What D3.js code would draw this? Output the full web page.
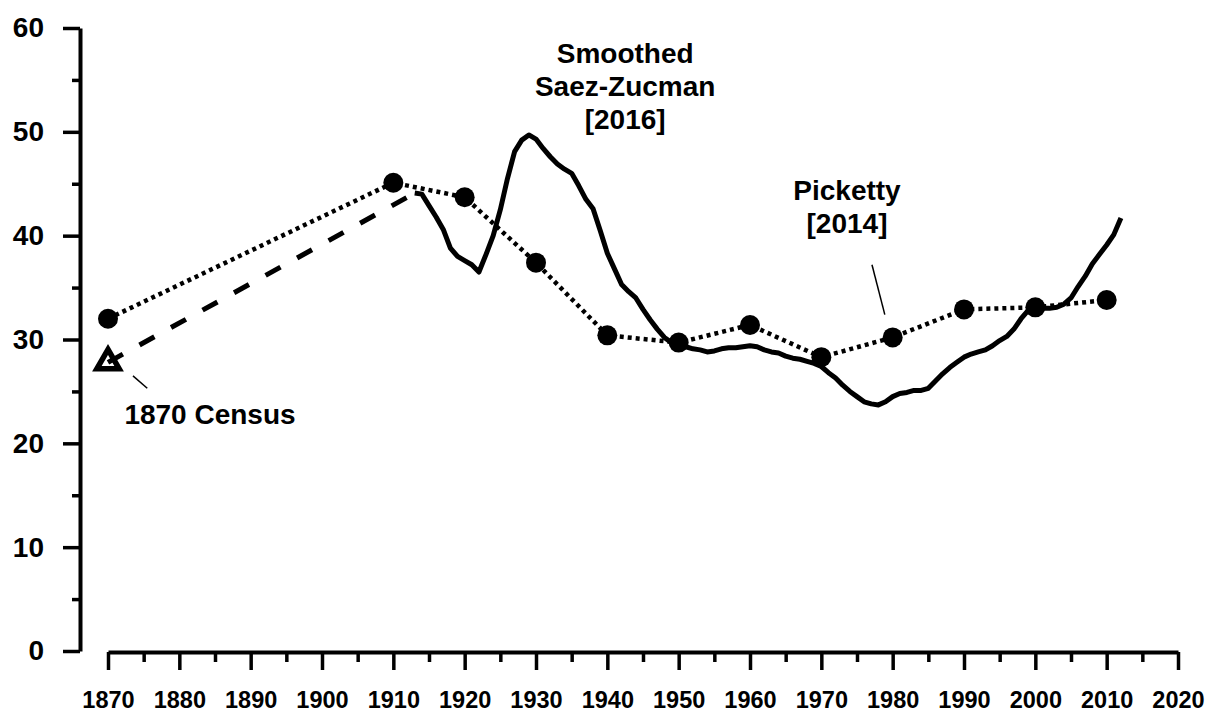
<html>

<head>
    <style>
        body { margin: 0; background: #fff; }
        text { font-family: "Liberation Sans", Arial, sans-serif; font-weight: bold; fill: #000; }
    </style>
</head>

<body>
    <svg id="svg-container" height="715" width="1209">
        <g id="yaxis"></g>
        <g id="yaxis-minor"></g>
        <g id="xaxis"></g>
        <g id="xaxis-minor"></g>
        <g id="body"></g>
        <g id="notes"></g>
    </svg>
</body>
<script src="https://d3js.org/d3.v7.min.js"></script>
<script>
    // Picketty [2014] decade points
    let pikettyYears = [1870, 1910, 1920, 1930, 1940, 1950, 1960, 1970, 1980, 1990, 2000, 2010]
    let pikettyValues = [32.0, 45.1, 43.7, 37.4, 30.4, 29.7, 31.4, 28.3, 30.2, 32.9, 33.1, 33.8]

    // Smoothed Saez-Zucman [2016], yearly
    let szYears = d3.range(1913, 2013)
    let szValues = [44.1, 44.0, 42.9, 41.8, 40.6, 38.8, 38.0, 37.6, 37.2, 36.5,
        38.2, 40.0, 42.5, 45.5, 48.1, 49.2, 49.7, 49.3, 48.4, 47.6,
        46.9, 46.4, 46.0, 44.8, 43.5, 42.6, 40.5, 38.3, 36.8, 35.3,
        34.6, 34.0, 32.9, 31.9, 31.0, 30.2, 29.7, 29.5, 29.3, 29.1,
        29.0, 28.8, 28.9, 29.1, 29.2, 29.2, 29.3, 29.4, 29.3, 29.0,
        28.8, 28.7, 28.4, 28.2, 28.1, 27.9, 27.7, 27.4, 26.8, 26.3,
        25.6, 25.0, 24.5, 24.0, 23.8, 23.7, 24.0, 24.5, 24.8, 24.9,
        25.1, 25.1, 25.3, 26.0, 26.7, 27.3, 27.8, 28.3, 28.6, 28.8,
        29.0, 29.4, 29.9, 30.3, 31.0, 32.0, 32.8, 33.0, 33.0, 33.0,
        33.1, 33.4, 34.0, 35.1, 36.1, 37.3, 38.2, 39.1, 40.1, 41.7]

    // 1870 Census link to the start of Saez-Zucman
    let censusYears = [1870, 1913]
    let censusValues = [27.8, 44.1]

    let xTicks = d3.range(1870, 2021, 10)
    let xMinorTicks = d3.range(1875, 2020, 10)
    let yTicks = d3.range(0, 61, 10)
    let yMinorTicks = d3.range(5, 60, 10)

    let svgContainer = d3.select("#svg-container")
    let body = d3.select("#body")
    let notes = d3.select("#notes")

    let xScale = d3.scaleLinear().domain([1870, 2020]).range([108, 1178])
    let yScale = d3.scaleLinear().domain([0, 60]).range([651, 28])

    // axes
    let yAxis = d3.axisLeft(yScale).tickValues(yTicks).tickSize(17).tickSizeOuter(0).tickPadding(19)
    d3.select("#yaxis").attr("transform", "translate(80,0)").call(yAxis)
    let yMinor = d3.axisLeft(yScale).tickValues(yMinorTicks).tickSize(8).tickFormat("")
    d3.select("#yaxis-minor").attr("transform", "translate(80,0)").call(yMinor)

    let xAxis = d3.axisBottom(xScale).tickValues(xTicks).tickSize(18).tickSizeOuter(0).tickPadding(21).tickFormat(d3.format("d"))
    d3.select("#xaxis").attr("transform", "translate(0,652)").call(xAxis)
    let xMinor = d3.axisBottom(xScale).tickValues(xMinorTicks).tickSize(10).tickFormat("")
    d3.select("#xaxis-minor").attr("transform", "translate(0,652)").call(xMinor)

    svgContainer.selectAll(".domain").attr("stroke", "#000").attr("stroke-width", 4)
    d3.selectAll("#xaxis-minor .domain, #yaxis-minor .domain").remove()
    svgContainer.selectAll(".tick line").attr("stroke", "#000").attr("stroke-width", 3.5)
    d3.select("#yaxis").selectAll("text").attr("font-size", 28).attr("font-family", null)
    d3.select("#xaxis").selectAll("text").attr("font-size", 23.5).attr("font-family", null)

    // lines
    let line = d3.line().x(d => xScale(d[0])).y(d => yScale(d[1]))

    body.append("path")
        .datum(d3.zip(pikettyYears, pikettyValues))
        .attr("d", line)
        .attr("fill", "none")
        .attr("stroke", "#000")
        .attr("stroke-width", 4.5)
        .attr("stroke-dasharray", "4,4")

    body.append("path")
        .datum(d3.zip(censusYears, censusValues))
        .attr("d", line)
        .attr("fill", "none")
        .attr("stroke", "#000")
        .attr("stroke-width", 5)
        .attr("stroke-dasharray", "17,19")

    body.append("path")
        .datum(d3.zip(szYears, szValues))
        .attr("d", line)
        .attr("fill", "none")
        .attr("stroke", "#000")
        .attr("stroke-width", 5)
        .attr("stroke-linejoin", "round")

    body.selectAll("circle")
        .data(d3.zip(pikettyYears, pikettyValues))
        .enter()
        .append("circle")
        .attr("cx", d => xScale(d[0]))
        .attr("cy", d => yScale(d[1]))
        .attr("r", 10)
        .attr("fill", "#000")

    // open triangle for the 1870 Census point
    body.append("path")
        .attr("d", d3.symbol(d3.symbolTriangle, 215)())
        .attr("transform", `translate(${xScale(censusYears[0])},${yScale(censusValues[0])})`)
        .attr("fill", "none")
        .attr("stroke", "#000")
        .attr("stroke-width", 5.5)
        .attr("stroke-linejoin", "miter")

    // annotations
    let sz = notes.append("text")
        .attr("text-anchor", "middle")
        .attr("font-size", 28)
    let szLines = ["Smoothed", "Saez-Zucman", "[2016]"]
    sz.selectAll("tspan").data(szLines).enter().append("tspan")
        .attr("x", xScale(1942.5))
        .attr("y", (d, i) => yScale(56.6) + i * 33)
        .text(d => d)

    let pk = notes.append("text")
        .attr("text-anchor", "middle")
        .attr("font-size", 28)
    pk.selectAll("tspan").data(["Picketty", "[2014]"]).enter().append("tspan")
        .attr("x", xScale(1973.6))
        .attr("y", (d, i) => yScale(43.4) + i * 33)
        .text(d => d)

    notes.append("line")
        .attr("x1", xScale(1977.1)).attr("y1", yScale(37.2))
        .attr("x2", xScale(1978.9)).attr("y2", yScale(32.4))
        .attr("stroke", "#000").attr("stroke-width", 1.5)

    notes.append("line")
        .attr("x1", xScale(1873.5)).attr("y1", yScale(26.5))
        .attr("x2", xScale(1875.5)).attr("y2", yScale(25.3))
        .attr("stroke", "#000").attr("stroke-width", 1.5)

    notes.append("text")
        .attr("x", xScale(1872.3))
        .attr("y", yScale(21.9))
        .attr("font-size", 28)
        .text("1870 Census")
</script>

</html>
